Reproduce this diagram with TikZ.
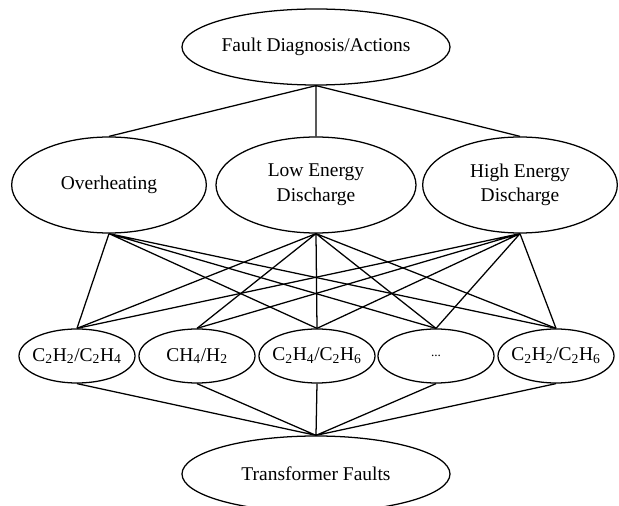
\documentclass[tikz,border=0pt]{standalone}
\usepackage{fontspec}
\setmainfont{Liberation Serif}
\usetikzlibrary{shapes.geometric}

\begin{document}
\begin{tikzpicture}[x=0.75pt,y=-0.75pt,
  every node/.style={font=\fontsize{14.6}{18.5}\selectfont},
  oval/.style={draw,ellipse,line width=0.95pt,inner xsep=-10pt,inner ysep=0pt,align=center},
  big/.style={oval,minimum width=201pt,minimum height=57pt},
  mid/.style={oval,minimum width=146pt,minimum height=72pt},
  gas/.style={oval,minimum width=87pt,minimum height=40.5pt},
  link/.style={line width=0.95pt}]

\useasboundingbox (0,0) rectangle (619,506);

% top and middle layer
\node[big] (diag) at (316,47) {Fault Diagnosis/Actions};
\node[mid] (over) at (109,185) {Overheating};
\node[mid,minimum width=150pt] (low) at (316,185) {Low Energy\\Discharge};
\node[mid] (high) at (520,185) {High Energy\\Discharge};

% gas ratios
\node[gas] (g1) at (77,356) {C\textsubscript{2}H\textsubscript{2}/C\textsubscript{2}H\textsubscript{4}};
\node[gas] (g2) at (197,356) {CH\textsubscript{4}/H\textsubscript{2}};
\node[gas] (g3) at (317,356) {C\textsubscript{2}H\textsubscript{4}/C\textsubscript{2}H\textsubscript{6}};
\node[gas] (g4) at (436,356) {\fontsize{10}{12}\selectfont ...};
\node[gas] (g5) at (556,356) {C\textsubscript{2}H\textsubscript{2}/C\textsubscript{2}H\textsubscript{6}};

\node[big] (faults) at (316,474) {Transformer Faults};

\draw[link] (diag.south) -- (over.north) (diag.south) -- (low.north) (diag.south) -- (high.north);

\draw[link] (over.south) -- (g1.north) (over.south) -- (g3.north) (over.south) -- (g4.north) (over.south) -- (g5.north);
\draw[link] (low.south) -- (g1.north) (low.south) -- (g2.north) (low.south) -- (g3.north) (low.south) -- (g4.north) (low.south) -- (g5.north);
\draw[link] (high.south) -- (g1.north) (high.south) -- (g2.north) (high.south) -- (g3.north) (high.south) -- (g4.north) (high.south) -- (g5.north);

\draw[link] (g1.south) -- (faults.north) (g2.south) -- (faults.north) (g3.south) -- (faults.north) (g4.south) -- (faults.north) (g5.south) -- (faults.north);
\end{tikzpicture}
\end{document}
